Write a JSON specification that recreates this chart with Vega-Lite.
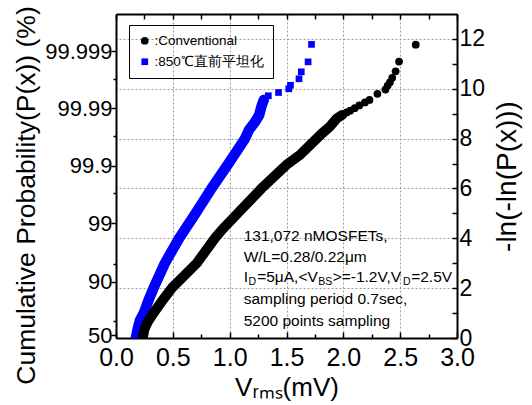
{
  "$schema": "https://vega.github.io/schema/vega-lite/v6.json",
  "width": 341,
  "height": 324,
  "autosize": "none",
  "padding": {"left": 116, "top": 14, "right": 75, "bottom": 67},
  "config": {
    "font": "Liberation Sans",
    "view": {"stroke": null},
    "axis": {"domainColor": "black", "domainWidth": 2, "tickColor": "black", "tickWidth": 1.5, "labelColor": "black", "titleColor": "black", "titleFontWeight": "normal", "gridColor": "#9a9a9a", "gridDash": [2, 2], "gridWidth": 1, "labelFlush": false, "labelOverlap": false, "labelBound": false},
    "legend": {"strokeColor": "black", "padding": 9, "labelFontSize": 13.5, "labelFont": "Liberation Sans", "symbolSize": 85, "rowPadding": 6, "labelOffset": 3, "symbolStrokeWidth": 0, "labelColor": "black"}
  },
  "data": {"values": [
    {"series": "Conventional", "part": "band", "v": 0.235, "p": 0},
    {"series": "Conventional", "part": "band", "v": 0.25, "p": 0.35},
    {"series": "Conventional", "part": "band", "v": 0.28, "p": 0.65},
    {"series": "Conventional", "part": "band", "v": 0.33, "p": 1.0},
    {"series": "Conventional", "part": "band", "v": 0.40, "p": 1.45},
    {"series": "Conventional", "part": "band", "v": 0.49, "p": 2.0},
    {"series": "Conventional", "part": "band", "v": 0.60, "p": 2.5},
    {"series": "Conventional", "part": "band", "v": 0.71, "p": 3.0},
    {"series": "Conventional", "part": "band", "v": 0.87, "p": 4.0},
    {"series": "Conventional", "part": "band", "v": 0.93, "p": 4.33},
    {"series": "Conventional", "part": "band", "v": 1.07, "p": 5.0},
    {"series": "Conventional", "part": "band", "v": 1.28, "p": 6.0},
    {"series": "Conventional", "part": "band", "v": 1.50, "p": 6.95},
    {"series": "Conventional", "part": "band", "v": 1.62, "p": 7.35},
    {"series": "Conventional", "part": "band", "v": 1.72, "p": 7.8},
    {"series": "Conventional", "part": "band", "v": 1.81, "p": 8.2},
    {"series": "Conventional", "part": "band", "v": 1.88, "p": 8.48},
    {"series": "Conventional", "part": "band", "v": 1.94, "p": 8.8},
    {"series": "Conventional", "part": "band", "v": 1.99, "p": 8.95},
    {"series": "Conventional", "part": "tail", "v": 2.03, "p": 9.05},
    {"series": "Conventional", "part": "tail", "v": 2.06, "p": 9.12},
    {"series": "Conventional", "part": "tail", "v": 2.10, "p": 9.22},
    {"series": "Conventional", "part": "tail", "v": 2.14, "p": 9.33},
    {"series": "Conventional", "part": "tail", "v": 2.19, "p": 9.45},
    {"series": "Conventional", "part": "tail", "v": 2.23, "p": 9.55},
    {"series": "Conventional", "part": "tail", "v": 2.30, "p": 9.8},
    {"series": "Conventional", "part": "tail", "v": 2.37, "p": 9.97},
    {"series": "Conventional", "part": "tail", "v": 2.39, "p": 10.13},
    {"series": "Conventional", "part": "tail", "v": 2.41, "p": 10.26},
    {"series": "Conventional", "part": "tail", "v": 2.43, "p": 10.44},
    {"series": "Conventional", "part": "tail", "v": 2.46, "p": 10.7},
    {"series": "Conventional", "part": "tail", "v": 2.49, "p": 11.09},
    {"series": "Conventional", "part": "tail", "v": 2.637, "p": 11.77},
    {"series": "850℃直前平坦化", "part": "band", "v": 0.175, "p": 0},
    {"series": "850℃直前平坦化", "part": "band", "v": 0.19, "p": 0.35},
    {"series": "850℃直前平坦化", "part": "band", "v": 0.21, "p": 0.7},
    {"series": "850℃直前平坦化", "part": "band", "v": 0.245, "p": 1.0},
    {"series": "850℃直前平坦化", "part": "band", "v": 0.285, "p": 1.5},
    {"series": "850℃直前平坦化", "part": "band", "v": 0.33, "p": 2.0},
    {"series": "850℃直前平坦化", "part": "band", "v": 0.43, "p": 3.0},
    {"series": "850℃直前平坦化", "part": "band", "v": 0.555, "p": 4.0},
    {"series": "850℃直前平坦化", "part": "band", "v": 0.70, "p": 5.0},
    {"series": "850℃直前平坦化", "part": "band", "v": 0.84, "p": 6.0},
    {"series": "850℃直前平坦化", "part": "band", "v": 0.99, "p": 7.0},
    {"series": "850℃直前平坦化", "part": "band", "v": 1.135, "p": 8.0},
    {"series": "850℃直前平坦化", "part": "band", "v": 1.17, "p": 8.35},
    {"series": "850℃直前平坦化", "part": "band", "v": 1.22, "p": 8.65},
    {"series": "850℃直前平坦化", "part": "band", "v": 1.26, "p": 8.95},
    {"series": "850℃直前平坦化", "part": "band", "v": 1.28, "p": 9.3},
    {"series": "850℃直前平坦化", "part": "band", "v": 1.30, "p": 9.55},
    {"series": "850℃直前平坦化", "part": "tail", "v": 1.31, "p": 9.62},
    {"series": "850℃直前平坦化", "part": "tail", "v": 1.34, "p": 9.72},
    {"series": "850℃直前平坦化", "part": "tail", "v": 1.43, "p": 9.85},
    {"series": "850℃直前平坦化", "part": "tail", "v": 1.52, "p": 10.0},
    {"series": "850℃直前平坦化", "part": "tail", "v": 1.535, "p": 10.14},
    {"series": "850℃直前平坦化", "part": "tail", "v": 1.61, "p": 10.4},
    {"series": "850℃直前平坦化", "part": "tail", "v": 1.63, "p": 10.68},
    {"series": "850℃直前平坦化", "part": "tail", "v": 1.69, "p": 11.08},
    {"series": "850℃直前平坦化", "part": "tail", "v": 1.72, "p": 11.78}
  ]},
  "resolve": {"axis": {"x": "independent", "y": "independent"}},
  "layer": [
    {
      "transform": [{"filter": "datum.series == '850℃直前平坦化' && datum.part == 'band'"}],
      "mark": {"type": "line", "color": "#0000ff", "strokeWidth": 10.5, "strokeCap": "round", "strokeJoin": "round", "clip": true},
      "encoding": {
        "x": {"field": "v", "type": "quantitative", "scale": {"domain": [0, 3], "nice": false},
          "axis": {"orient": "bottom", "values": [0, 0.5, 1, 1.5, 2, 2.5, 3], "format": ".1f", "tickSize": -6, "labelFontSize": 25, "labelPadding": 13, "grid": true, "title": "Vᵣₘₛ(mV)", "titleFontSize": 26, "titlePadding": 4}},
        "y": {"field": "p", "type": "quantitative", "scale": {"domain": [0, 13], "nice": false},
          "axis": {"orient": "left", "values": [0.12, 2.25, 4.6, 6.907, 9.21, 11.513], "labelExpr": "datum.value < 1 ? '50' : datum.value < 3 ? '90' : datum.value < 5 ? '99' : datum.value < 8 ? '99.9' : datum.value < 10 ? '99.99' : '99.999'", "tickSize": 5, "labelFontSize": 22, "labelPadding": -1, "grid": false, "title": "Cumulative Probability(P(x)) (%)", "titleFontSize": 26.5, "titlePadding": 4, "titleY": 181}},
        "order": {"field": "p"}
      }
    },
    {
      "transform": [{"filter": "datum.series == '850℃直前平坦化'"}],
      "mark": {"type": "point", "shape": "square", "filled": true, "opacity": 1, "clip": true},
      "encoding": {
        "x": {"field": "v", "type": "quantitative",
          "axis": {"orient": "top", "values": [0, 0.25, 0.5, 0.75, 1, 1.25, 1.5, 1.75, 2, 2.25, 2.5, 2.75, 3], "labels": false, "tickSize": -5, "grid": false, "title": null, "zindex": 1}},
        "y": {"field": "p", "type": "quantitative",
          "axis": {"orient": "right", "values": [0, 1, 2, 3, 4, 5, 6, 7, 8, 9, 10, 11, 12], "labelExpr": "datum.value % 2 == 0 ? datum.label : ''", "tickSize": -5, "labelFontSize": 23, "labelPadding": 7, "grid": false, "title": "-ln(-ln(P(x)))", "titleFontSize": 28, "titleAngle": -90, "titleBaseline": "top", "titlePadding": 9, "zindex": 1}},
        "size": {"field": "series", "type": "nominal", "scale": {"domain": ["Conventional", "850℃直前平坦化"], "range": [60, 45]}, "legend": null},
        "color": {"field": "series", "type": "nominal", "scale": {"domain": ["Conventional", "850℃直前平坦化"], "range": ["black", "#0000ff"]},
          "legend": {"title": null, "orient": "none", "legendX": 13, "legendY": 11, "labelExpr": "':' + datum.label"}},
        "shape": {"field": "series", "type": "nominal", "scale": {"domain": ["Conventional", "850℃直前平坦化"], "range": ["circle", "square"]},
          "legend": {"title": null, "orient": "none", "legendX": 13, "legendY": 11, "labelExpr": "':' + datum.label"}}
      }
    },
    {
      "transform": [{"filter": "datum.series == 'Conventional' && datum.part == 'band'"}],
      "mark": {"type": "line", "color": "black", "strokeWidth": 10, "strokeCap": "round", "strokeJoin": "round", "clip": true},
      "encoding": {
        "x": {"field": "v", "type": "quantitative",
          "axis": {"orient": "bottom", "values": [0.25, 0.75, 1.25, 1.75, 2.25, 2.75], "labels": false, "tickSize": -4, "domain": false, "grid": false, "title": null}},
        "y": {"field": "p", "type": "quantitative",
          "axis": {"orient": "right", "values": [2, 4, 6, 8, 10, 12], "labels": false, "ticks": false, "domain": false, "grid": true, "title": null}},
        "order": {"field": "p"}
      }
    },
    {
      "transform": [{"filter": "datum.series == 'Conventional'"}],
      "mark": {"type": "point", "shape": "circle", "filled": true, "opacity": 1, "clip": true},
      "encoding": {
        "x": {"field": "v", "type": "quantitative", "axis": null},
        "y": {"field": "p", "type": "quantitative",
          "axis": {"orient": "left", "values": [0.672, 2.97, 5.81, 8.11, 10.41], "labels": false, "tickSize": 3, "domain": false, "grid": false, "title": null, "zindex": 1}},
        "size": {"field": "series", "type": "nominal", "legend": null},
        "color": {"field": "series", "type": "nominal",
          "legend": {"title": null, "orient": "none", "legendX": 13, "legendY": 11, "labelExpr": "':' + datum.label"}},
        "shape": {"field": "series", "type": "nominal",
          "legend": {"title": null, "orient": "none", "legendX": 13, "legendY": 11, "labelExpr": "':' + datum.label"}}
      }
    },
    {
      "data": {"values": [{}]},
      "mark": {"type": "text", "align": "left", "baseline": "middle", "fontSize": 15.5, "text": "131,072 nMOSFETs,"},
      "encoding": {"x": {"datum": 1.123, "type": "quantitative", "axis": null}, "y": {"datum": 4.1, "type": "quantitative", "axis": null}}
    },
    {
      "data": {"values": [{}]},
      "mark": {"type": "text", "align": "left", "baseline": "middle", "fontSize": 15.5, "text": "W/L=0.28/0.22μm"},
      "encoding": {"x": {"datum": 1.123, "type": "quantitative", "axis": null}, "y": {"datum": 3.24, "type": "quantitative", "axis": null}}
    },
    {
      "data": {"values": [{}]},
      "mark": {"type": "text", "align": "left", "baseline": "middle", "fontSize": 15.5, "text": "I"},
      "encoding": {"x": {"datum": 1.123, "type": "quantitative", "axis": null}, "y": {"datum": 2.44, "type": "quantitative", "axis": null}}
    },
    {
      "data": {"values": [{}]},
      "mark": {"type": "text", "align": "left", "baseline": "middle", "fontSize": 10.5, "dx": 4.8, "dy": 5, "text": "D"},
      "encoding": {"x": {"datum": 1.123, "type": "quantitative", "axis": null}, "y": {"datum": 2.44, "type": "quantitative", "axis": null}}
    },
    {
      "data": {"values": [{}]},
      "mark": {"type": "text", "align": "left", "baseline": "middle", "fontSize": 15.5, "dx": 13.5, "text": "=5μA,<V"},
      "encoding": {"x": {"datum": 1.123, "type": "quantitative", "axis": null}, "y": {"datum": 2.44, "type": "quantitative", "axis": null}}
    },
    {
      "data": {"values": [{}]},
      "mark": {"type": "text", "align": "left", "baseline": "middle", "fontSize": 10.5, "dx": 74.5, "dy": 5, "text": "BS"},
      "encoding": {"x": {"datum": 1.123, "type": "quantitative", "axis": null}, "y": {"datum": 2.44, "type": "quantitative", "axis": null}}
    },
    {
      "data": {"values": [{}]},
      "mark": {"type": "text", "align": "left", "baseline": "middle", "fontSize": 15.5, "dx": 89, "text": ">=-1.2V,V"},
      "encoding": {"x": {"datum": 1.123, "type": "quantitative", "axis": null}, "y": {"datum": 2.44, "type": "quantitative", "axis": null}}
    },
    {
      "data": {"values": [{}]},
      "mark": {"type": "text", "align": "left", "baseline": "middle", "fontSize": 10.5, "dx": 159.3, "dy": 5, "text": "D"},
      "encoding": {"x": {"datum": 1.123, "type": "quantitative", "axis": null}, "y": {"datum": 2.44, "type": "quantitative", "axis": null}}
    },
    {
      "data": {"values": [{}]},
      "mark": {"type": "text", "align": "left", "baseline": "middle", "fontSize": 15.5, "dx": 167.5, "text": "=2.5V"},
      "encoding": {"x": {"datum": 1.123, "type": "quantitative", "axis": null}, "y": {"datum": 2.44, "type": "quantitative", "axis": null}}
    },
    {
      "data": {"values": [{}]},
      "mark": {"type": "text", "align": "left", "baseline": "middle", "fontSize": 15.5, "text": "sampling period 0.7sec,"},
      "encoding": {"x": {"datum": 1.123, "type": "quantitative", "axis": null}, "y": {"datum": 1.57, "type": "quantitative", "axis": null}}
    },
    {
      "data": {"values": [{}]},
      "mark": {"type": "text", "align": "left", "baseline": "middle", "fontSize": 15.5, "text": "5200 points sampling"},
      "encoding": {"x": {"datum": 1.123, "type": "quantitative", "axis": null}, "y": {"datum": 0.69, "type": "quantitative", "axis": null}}
    }
  ]
}
